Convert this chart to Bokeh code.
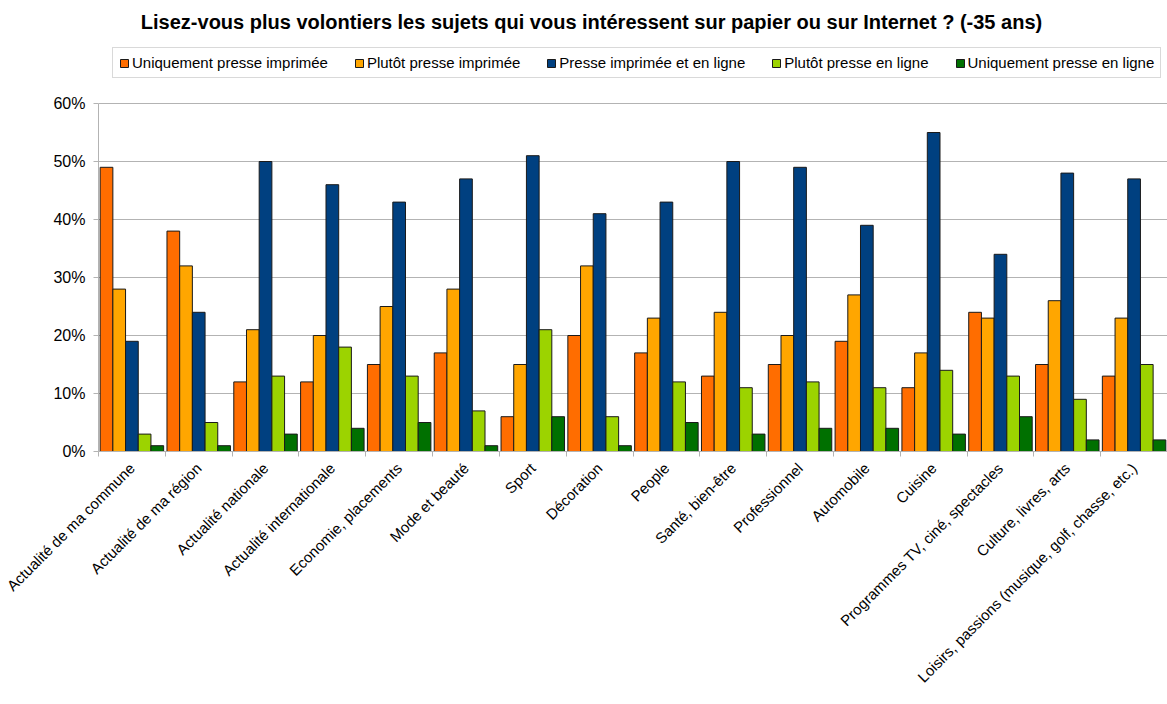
from math import pi
from bokeh.plotting import figure
from bokeh.models import (Range1d, LinearAxis, FixedTicker,
                          NumeralTickFormatter, Legend, LegendItem, Label, ColumnDataSource)
from bokeh.transform import dodge
from bokeh.embed import file_html
from bokeh.resources import INLINE

title = "Lisez-vous plus volontiers les sujets qui vous intéressent sur papier ou sur Internet ? (-35 ans)"

categories = [
    "Actualité de ma commune", "Actualité de ma région", "Actualité nationale",
    "Actualité internationale", "Economie, placements", "Mode et beauté", "Sport",
    "Décoration", "People", "Santé, bien-être", "Professionnel", "Automobile",
    "Cuisine", "Programmes TV, ciné, spectacles", "Culture, livres, arts",
    "Loisirs, passions (musique, golf, chasse, etc.)",
]

series_names = [
    "Uniquement presse imprimée", "Plutôt presse imprimée", "Presse imprimée et en ligne",
    "Plutôt presse en ligne", "Uniquement presse en ligne",
]

uniquement_imprimee = [49, 38, 12, 12, 15, 17, 6, 20, 17, 13, 15, 19, 11, 24, 15, 13]
plutot_imprimee = [28, 32, 21, 20, 25, 28, 15, 32, 23, 24, 20, 27, 17, 23, 26, 23]
imprimee_et_en_ligne = [19, 24, 50, 46, 43, 47, 51, 41, 43, 50, 49, 39, 55, 34, 48, 47]
plutot_en_ligne = [3, 5, 13, 18, 13, 7, 21, 6, 12, 11, 12, 11, 14, 13, 9, 15]
uniquement_en_ligne = [1, 1, 3, 4, 5, 1, 6, 1, 5, 3, 4, 4, 3, 6, 2, 2]

y_ticks = [0, 0.1, 0.2, 0.3, 0.4, 0.5, 0.6]

colors = ["#ff6d00", "#ffa600", "#004080", "#9cd300", "#007000"]

n = len(categories)
series = [uniquement_imprimee, plutot_imprimee, imprimee_et_en_ligne, plutot_en_ligne, uniquement_en_ligne]
keys = ["s0", "s1", "s2", "s3", "s4"]
data = {"cat": categories, "pos": list(range(n))}
for k, vals in zip(keys, series):
    data[k] = [v / 100 for v in vals]
source = ColumnDataSource(data)

W, H = 1167, 704
BOTTOM = 253          # space below the plot area
PLOT_TOP = 103        # pixel row of the 60 % line
frame_h = H - BOTTOM  # frame spans from the top of the canvas
y_max = 0.6 * frame_h / (frame_h - PLOT_TOP)

p = figure(width=W, height=H, x_range=Range1d(-0.5, n - 0.5), y_range=Range1d(0, y_max),
           output_backend="svg", toolbar_location=None, x_axis_location=None,
           y_axis_location=None,
           min_border_left=98, min_border_right=0, min_border_top=0, min_border_bottom=BOTTOM)
p.outline_line_color = None
p.background_fill_color = "white"
p.border_fill_color = "white"

# y axis
yaxis = LinearAxis(ticker=FixedTicker(ticks=y_ticks), formatter=NumeralTickFormatter(format="0%"),
                   bounds=(0, 0.6))
yaxis.axis_line_color = "#b3b3b3"
yaxis.major_tick_line_color = "#b3b3b3"
yaxis.major_tick_out = 5
yaxis.major_tick_in = 0
yaxis.minor_tick_line_color = None
yaxis.major_label_text_font = "Liberation Sans"
yaxis.major_label_text_font_size = "16px"
yaxis.major_label_text_color = "black"
yaxis.major_label_standoff = 8
p.add_layout(yaxis, "left")

# x axis: labels at category centres, ticks at category boundaries
xaxis = LinearAxis(ticker=FixedTicker(ticks=list(range(n)),
                                      minor_ticks=[i - 0.5 for i in range(n + 1)]))
xaxis.major_label_overrides = {i: c for i, c in enumerate(categories)}
xaxis.axis_line_color = "#b3b3b3"
xaxis.major_tick_line_color = None
xaxis.minor_tick_line_color = "#b3b3b3"
xaxis.minor_tick_out = 5
xaxis.minor_tick_in = 0
xaxis.major_label_orientation = pi / 4
xaxis.major_label_text_font = "Liberation Sans"
xaxis.major_label_text_font_size = "15px"
xaxis.major_label_text_color = "black"
xaxis.major_label_standoff = 8
p.add_layout(xaxis, "below")

p.ygrid.grid_line_color = "#b3b3b3"
p.ygrid.ticker = FixedTicker(ticks=y_ticks)
p.xgrid.grid_line_color = None

bw = 0.19
offsets = [-2 * bw, -bw, 0, bw, 2 * bw]
items = []
for k, name, col, off in zip(keys, series_names, colors, offsets):
    r = p.vbar(x=dodge("pos", off), top=k, width=bw, bottom=0, source=source,
               fill_color=col, line_color="#1a1a1a", line_width=1)
    items.append(LegendItem(label=name, renderers=[r]))

legend = Legend(items=items, orientation="horizontal", location=(14, frame_h - 78))
legend.label_text_font = "Liberation Sans"
legend.label_text_font_size = "15px"
legend.label_text_color = "black"
legend.glyph_width = 10
legend.glyph_height = 10
legend.label_standoff = 3
legend.spacing = 26
legend.padding = 6
legend.margin = 0
legend.border_line_color = "#b3b3b3"
legend.border_line_width = 1
legend.background_fill_alpha = 1
p.add_layout(legend, "center")

t = Label(x=493, y=frame_h - 21, x_units="screen", y_units="screen", text=title,
          text_font="Liberation Sans", text_font_style="bold", text_font_size="20px",
          text_align="center", text_baseline="alphabetic", text_color="black")
p.add_layout(t)

open("out.html", "w").write(file_html(p, INLINE))
